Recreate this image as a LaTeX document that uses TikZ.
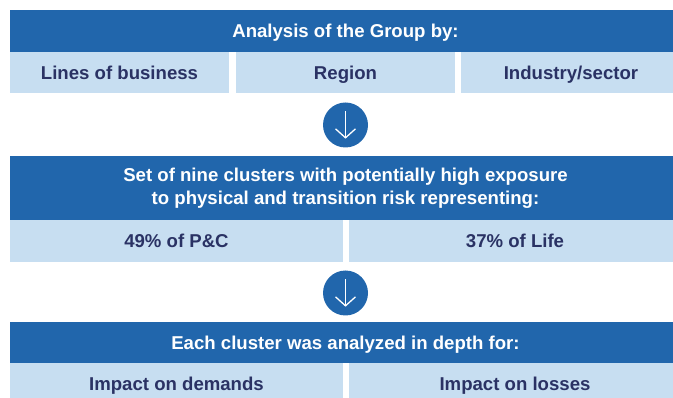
\documentclass[tikz,border=0pt]{standalone}
\usepackage{fontspec}
\setmainfont{Liberation Sans}
\usetikzlibrary{positioning, calc, arrows.meta}

\definecolor{barblue}{RGB}{33,102,172}
\definecolor{cellblue}{RGB}{199,222,241}
\definecolor{navytext}{RGB}{42,50,100}

\begin{document}
\begin{tikzpicture}[x=1pt, y=-1pt,
		bar/.style={fill=barblue, text=white, font=\bfseries\fontsize{18.6}{23}\selectfont, minimum height=42pt, inner sep=0pt, align=center},
		cell/.style={fill=cellblue, text=navytext, font=\bfseries\fontsize{18.6}{23}\selectfont, minimum height=41pt, inner sep=0pt, text height=14pt, text depth=0pt},
		stepdot/.style={circle, fill=barblue, minimum size=45pt, inner sep=0pt}]
		\useasboundingbox (0, 0) rectangle (673, 398);
		\clip (0, 0) rectangle (673, 398);
		% analysis
		\node[bar, minimum width=671pt, text height=14pt, text depth=0pt] (group) at (345.5, 31) {Analysis of the Group by:};
		\node[cell, minimum width=219pt] (lines) at (119.5, 72.5) {Lines of business};
		\node[cell, minimum width=219pt] (region) at (345.5, 72.5) {Region};
		\node[cell, minimum width=220pt] (industry) at (571, 72.5) {Industry/sector};
		\node[stepdot] (stepA) at (345.5, 125) {};
		\draw[white, line width=1.3pt, -{Straight Barb[length=9pt, width=20pt, line width=1.3pt]}] ([yshift=-9pt]stepA.north) -- ([yshift=9pt]stepA.south);
		% clusters
		\node[bar, minimum width=671pt, minimum height=64pt] (clusters) at (345.5, 188) {Set of nine clusters with potentially high exposure\\to physical and transition risk representing:};
		\node[cell, minimum width=333pt, minimum height=42pt] (pandc) at (176.5, 241) {49\% of P\&C};
		\node[cell, minimum width=332pt, minimum height=42pt] (life) at (515, 241) {37\% of Life};
		\node[stepdot] (stepB) at (345.5, 293) {};
		\draw[white, line width=1.3pt, -{Straight Barb[length=9pt, width=20pt, line width=1.3pt]}] ([yshift=-9pt]stepB.north) -- ([yshift=9pt]stepB.south);
		% depth
		\node[bar, minimum width=671pt, minimum height=41pt, text height=14pt, text depth=0pt] (depth) at (345.5, 342.5) {Each cluster was analyzed in depth for:};
		\node[cell, minimum width=333pt] (demands) at (176.5, 383.5) {Impact on demands};
		\node[cell, minimum width=332pt] (losses) at (515, 383.5) {Impact on losses};
	\end{tikzpicture}
\end{document}
